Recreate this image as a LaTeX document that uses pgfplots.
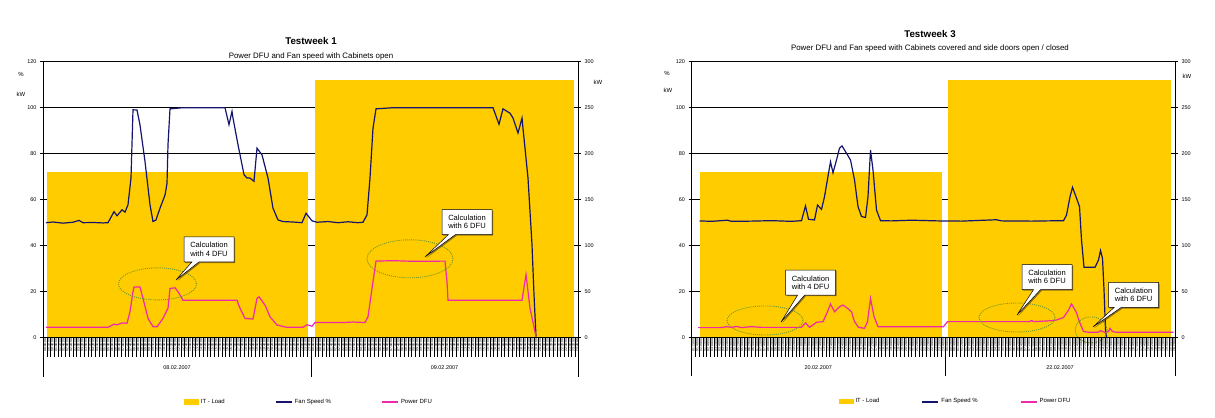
\documentclass[border=0pt]{standalone}
\usepackage{fontspec}
\setmainfont{Liberation Sans}
\usepackage{pgfplots}
\pgfplotsset{compat=1.18}
\usetikzlibrary{shapes.callouts,shadows}

\definecolor{itload}{RGB}{255,204,0}
\definecolor{fan}{RGB}{20,20,110}
\definecolor{dfu}{RGB}{240,40,170}
\definecolor{ell}{RGB}{110,150,40}

\tikzset{
  callbox/.style={rectangle callout, draw=black, fill=white, line width=0.5bp, align=center,
    font=\fontsize{7.6}{8.4}\selectfont, minimum width=50bp, minimum height=25bp, inner sep=1bp,
    drop shadow={shadow xshift=1.2bp, shadow yshift=-1.2bp, fill=black!60!brown, opacity=0.6}},
  ellip/.style={draw=ell, line width=0.9bp, dash pattern=on 1bp off 1.1bp},
}

\pgfplotsset{
  primary/.style={
    scale only axis, height=276bp, ymin=0, ymax=120, ytick={0,20,...,120},
    axis x line*=bottom, axis y line*=left, xtick=\empty,
    ymajorgrids, grid style={black, line width=0.6bp},
    tick align=outside, major tick length=3bp, tick style={black, line width=0.6bp},
    axis line style={black, line width=0.6bp},
    yticklabel style={font=\fontsize{5.5}{6}\selectfont},
    /pgf/number format/assume math mode=true,
    clip=false,
    legend style={anchor=center, draw=none, fill=none, legend columns=3,
      font=\fontsize{6}{7}\selectfont, legend cell align=left,
      /tikz/every even column/.append style={column sep=48bp}},
  },
  linelegend/.style={legend image code/.code={\draw[line width=2bp] (0bp,0bp) -- (16bp,0bp);}},
  boxlegend/.style={legend image code/.code={\fill[itload] (0bp,-2.8bp) rectangle (15bp,2.8bp);}},
  secondary/.style={
    scale only axis, height=276bp, ymin=0, ymax=300, ytick={0,50,...,300},
    axis x line=none, axis y line*=right,
    tick align=outside, major tick length=3bp, tick style={black, line width=0.6bp},
    axis line style={black, line width=0.6bp},
    yticklabel style={font=\fontsize{5.5}{6}\selectfont},
    /pgf/number format/assume math mode=true,
  },
  band/.style={
    scale only axis, height=276bp, ymin=0, ymax=120,
    axis y line=none, axis x line*=bottom,
    axis line style={black, line width=0.6bp},
    tick align=outside, major tick length=0bp, minor tick length=19bp,
    minor tick style={black, line width=0.3bp},
    xticklabel style={font=\fontsize{3.4}{3.4}\selectfont, rotate=90, anchor=east, inner sep=0.6bp},
    clip=false,
  },
}

\begin{document}
\begin{tikzpicture}
\useasboundingbox (0,0) rectangle (1215bp,418bp);

%================ LEFT PANEL (Testweek 1) =================
\begin{axis}[primary, at={(43bp,80.3bp)}, width=535bp, xmin=0, xmax=535,
  legend style={at={(0.497,-0.232)}}]
\addplot[draw=none, fill=itload, boxlegend] table[x=x, y expr=\thisrow{kW}/2.5, row sep=\\] {
x kW\\ 4.3 180\\ 264.7 180\\ } \closedcycle;
\addlegendentry{IT - Load}
\addplot[draw=none, fill=itload, forget plot] table[x=x, y expr=\thisrow{kW}/2.5, row sep=\\] {
x kW\\ 272 280\\ 531 280\\ } \closedcycle;
\addplot[fan, line width=1.2bp, linelegend] coordinates {
(3,50)(10,50.3)(20,49.8)(30,50.2)(36,51)(40,50)(50,50.1)(60,49.9)(65,50)(71,54.8)(74,53)(79,55.6)(82,54.6)(85,57.8)(88,69.4)(90,99.1)(94,99)(97,92.5)(102,76.6)(107,57.8)(110,50.5)(113,51.2)(117,56.3)(122,62)(124,67)(125,83.9)(127,99.5)(140,100)(160,100)(182,100)(186,92.6)(189,98.4)(190,95.5)(195,83.9)(201,70.9)(204,69.4)(207,69.4)(211,68)(214,82.4)(219,79.5)(225,69.4)(230,56.3)(235,51.2)(240,50.5)(250,50.3)(259,50)(263,54.1)(269,50.8)(274,50.2)(285,50.5)(295,50)(305,50.4)(315,50)(320,50.2)(324,53.4)(327,69.4)(330,91.1)(333,99.5)(350,100)(400,100)(450,100)(456,92.8)(460,99.5)(467,97.6)(470,95.5)(475,89)(479,95.5)(480,91)(485,69.4)(489,40.4)(491,18.7)(493,0.5)
};
\addlegendentry{Fan Speed \%}
\addplot[dfu, line width=1.2bp, linelegend] coordinates {
(3,4.5)(30,4.5)(65,4.5)(71,5.9)(74,5.6)(79,6.4)(84,6.3)(87,11.3)(90,20)(91,22)(97,22)(100,17.1)(105,8.4)(110,4.8)(114,4.7)(120,8.4)(125,12.8)(127,21.4)(132,21.7)(135,20)(140,16.3)(194,16.3)(197,12.8)(202,8.4)(210,8.1)(214,17.1)(216,17.8)(222,14.2)(227,9.1)(234,5.5)(244,4.5)(260,4.5)(264,5.6)(269,5)(272,6.6)(300,6.6)(310,6.8)(322,6.6)(325,9.1)(329,21.4)(333,33.3)(350,33.5)(370,33.2)(402,33.3)(404,24.3)(405,16.3)(479,16.3)(483,27.5)(487,12.8)(493,0.5)
};
\addlegendentry{Power DFU}
\draw[ellip] (axis cs:114.5,23.4) ellipse [x radius=39bp, y radius=16bp];
\draw[ellip] (axis cs:367,34.3) ellipse [x radius=43bp, y radius=19bp];
\node[callbox, callout absolute pointer={(axis cs:133,25.1)}] at (axis cs:166,38.4) {Calculation\\with 4 DFU};
\node[callbox, callout absolute pointer={(axis cs:382,35.1)}] at (axis cs:424,50.3) {Calculation\\with 6 DFU};
\end{axis}
\begin{axis}[secondary, at={(43bp,80.3bp)}, width=535bp, xmin=0, xmax=535]
\end{axis}
\begin{axis}[band, at={(43bp,80.3bp)}, width=535bp, xmin=0, xmax=535,
  xtick={1.8611,5.5833,...,535}, minor xtick={0,3.7222,...,535},
  xticklabel={\pgfmathtruncatemacro\k{mod(round(\tick/3.7222-0.5),72)}\pgfmathtruncatemacro\hh{\k/3}\pgfmathtruncatemacro\mm{20*mod(\k,3)}\ifnum\hh<10 0\fi\hh:\ifnum\mm<10 0\fi\mm:00}]
\draw[black, line width=0.6bp] (axis cs:0,0) -- ++(0,-39bp);
\draw[black, line width=0.6bp] (axis cs:268,0) -- ++(0,-39bp);
\draw[black, line width=0.6bp] (axis cs:535,0) -- ++(0,-39bp);
\node[font=\fontsize{5.5}{6}\selectfont] at ([yshift=-30bp]axis cs:134,0) {08.02.2007};
\node[font=\fontsize{5.5}{6}\selectfont] at ([yshift=-30bp]axis cs:401.5,0) {09.02.2007};
\end{axis}

\node[font=\bfseries\fontsize{9.8}{10}\selectfont] at (311bp,377bp) {Testweek 1};
\node[font=\fontsize{7.9}{8.5}\selectfont] at (311bp,362bp) {Power DFU and Fan speed with Cabinets open};
\node[font=\fontsize{6}{7}\selectfont] at (21bp,344bp) {\%};
\node[font=\fontsize{6}{7}\selectfont] at (21bp,324bp) {kW};
\node[font=\fontsize{6}{7}\selectfont] at (598bp,336bp) {kW};

%================ RIGHT PANEL (Testweek 3) =================
\begin{axis}[primary, at={(691.5bp,80.5bp)}, width=483.5bp, xmin=0, xmax=483.5,
  legend style={at={(0.546,-0.232)}, /tikz/every even column/.append style={column sep=40bp}}]
\addplot[draw=none, fill=itload, boxlegend] table[x=x, y expr=\thisrow{kW}/2.5, row sep=\\] {
x kW\\ 8.2 180\\ 250.2 180\\ } \closedcycle;
\addlegendentry{IT - Load}
\addplot[draw=none, fill=itload, forget plot] table[x=x, y expr=\thisrow{kW}/2.5, row sep=\\] {
x kW\\ 256.8 280\\ 479.2 280\\ } \closedcycle;
\addplot[fan, line width=1.2bp, linelegend] coordinates {
(8,50.7)(20,50.5)(36,51)(40,50.5)(60,50.6)(80,50.8)(100,50.5)(110,50.8)(114,57.2)(117,51.4)(123,51.1)(126,57.6)(130,55.7)(133,61.2)(137,71.4)(139,76.4)(141.5,71.6)(145,77.2)(148,82.3)(150.5,83.3)(155,80.1)(159,77.2)(163,68.5)(166.5,56.9)(170,52.6)(174,52.2)(176.5,61.2)(179,81.5)(181.5,72.8)(185,55.4)(189,50.8)(200,50.7)(220,51)(246,50.7)(270,50.6)(305,51.2)(310,50.7)(340,50.6)(372,50.8)(375,53.2)(378.5,61.2)(381,65.3)(384.5,61.2)(388,56.9)(390,42.4)(392.5,30.5)(403.5,30.5)(407,33.7)(409,37.8)(411,34.4)(412.5,20.7)(414,3.3)(415,0.1)
};
\addlegendentry{Fan Speed \%}
\addplot[dfu, line width=1.2bp, linelegend] coordinates {
(6.5,4.3)(30,4.3)(35,4.7)(40,4.4)(45,4.8)(50,4.3)(60,4.7)(70,4.4)(110,4.4)(114,6.4)(118,4.4)(125,6.6)(131.5,6.9)(136,11.2)(139,14.6)(143,11.2)(148,13.4)(151.5,14.1)(156,12.7)(160,11.2)(163,6.9)(167,4.4)(173,4.0)(176,6.9)(179,17)(182.5,9.1)(186.5,4.7)(252,4.7)(256,6.9)(300,6.9)(338,6.9)(340,7.4)(342,6.9)(360,7.3)(365,7.6)(372,8.7)(377,11.9)(380,14.6)(384.5,11.2)(388.5,6.2)(392,2.6)(397,2.3)(407,2.3)(409,3.0)(413.5,2.2)(417,2.6)(418.5,4.0)(421,2.6)(425,2.3)(482,2.3)
};
\addlegendentry{Power DFU}
\draw[ellip] (axis cs:73.5,7.4) ellipse [x radius=38bp, y radius=14.5bp];
\draw[ellip] (axis cs:325.5,8.7) ellipse [x radius=38bp, y radius=14.5bp];
\draw[ellip] (axis cs:399.5,3.3) ellipse [x radius=16bp, y radius=13bp];
\node[callbox, callout absolute pointer={(axis cs:89.5,6.7)}] at (axis cs:119,23.9) {Calculation\\with 4 DFU};
\node[callbox, callout absolute pointer={(axis cs:325.5,9.8)}] at (axis cs:355.5,26.3) {Calculation\\with 6 DFU};
\node[callbox, callout absolute pointer={(axis cs:401.5,4.6)}] at (axis cs:442,18.5) {Calculation\\with 6 DFU};
\end{axis}
\begin{axis}[secondary, at={(691.5bp,80.5bp)}, width=483.5bp, xmin=0, xmax=483.5]
\end{axis}
\begin{axis}[band, at={(691.5bp,80.5bp)}, width=483.5bp, xmin=0, xmax=483.5,
  xtick={1.8640,5.5919,...,483.5}, minor xtick={0,3.7279,...,483.5},
  xticklabel={\pgfmathtruncatemacro\k{mod(round(\tick/3.7279-0.5)+4,72)}\pgfmathtruncatemacro\hh{\k/3}\pgfmathtruncatemacro\mm{20*mod(\k,3)}\ifnum\hh<10 0\fi\hh:\ifnum\mm<10 0\fi\mm:00}]
\draw[black, line width=0.6bp] (axis cs:0,0) -- ++(0,-39bp);
\draw[black, line width=0.6bp] (axis cs:253.5,0) -- ++(0,-39bp);
\draw[black, line width=0.6bp] (axis cs:483.5,0) -- ++(0,-39bp);
\node[font=\fontsize{5.5}{6}\selectfont] at ([yshift=-30bp]axis cs:126.75,0) {20.02.2007};
\node[font=\fontsize{5.5}{6}\selectfont] at ([yshift=-30bp]axis cs:368.5,0) {22.02.2007};
\end{axis}

\node[font=\bfseries\fontsize{9.8}{10}\selectfont] at (930bp,384bp) {Testweek 3};
\node[font=\fontsize{7.9}{8.5}\selectfont] at (930bp,370bp) {Power DFU and Fan speed with Cabinets covered and side doors open / closed};
\node[font=\fontsize{6}{7}\selectfont] at (667bp,345bp) {\%};
\node[font=\fontsize{6}{7}\selectfont] at (668bp,328bp) {kW};
\node[font=\fontsize{6}{7}\selectfont] at (1187bp,342bp) {kW};
\end{tikzpicture}
\end{document}
